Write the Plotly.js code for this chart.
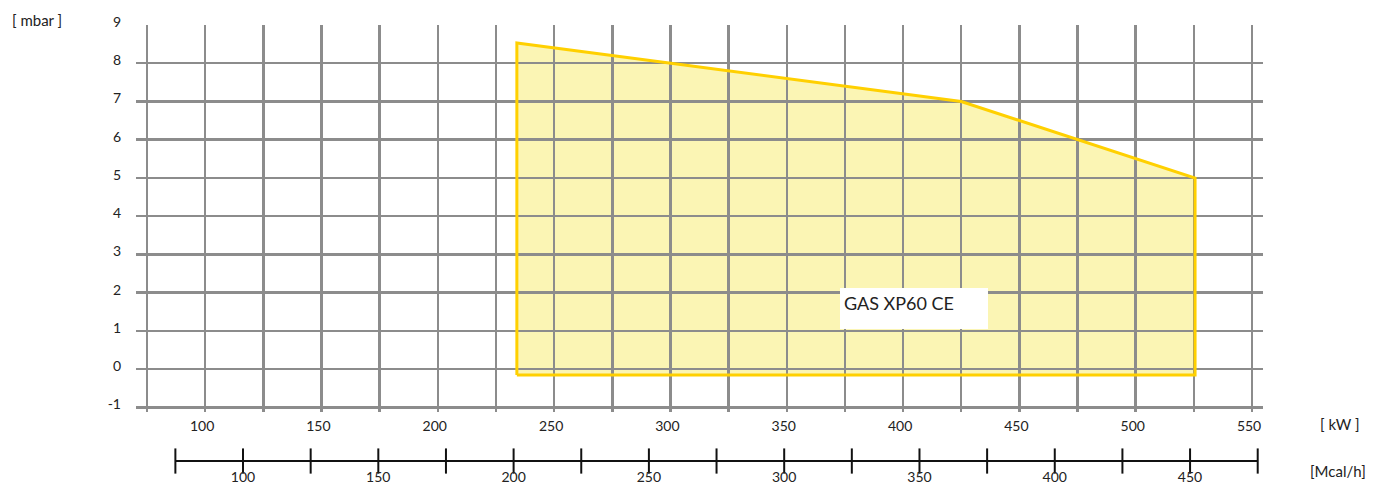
<!DOCTYPE html>
<html>
<head>
<meta charset="utf-8">
<script src="https://cdn.plot.ly/plotly-3.0.1.min.js"></script>
<style>html,body{margin:0;padding:0;background:#fff;}</style>
</head>
<body>
<div id="chart" style="width:1382px;height:486px;"></div>
<script>
// ---- data ----
const powerKW = [234, 234, 425, 525.5, 525.5];
const pressureMbar = [-0.15, 8.53, 7.0, 5.0, -0.15];
const seriesName = 'GAS XP60 CE';
const kwTicks = [100, 150, 200, 250, 300, 350, 400, 450, 500, 550];
const kwMinorGrid = [75, 125, 175, 225, 275, 325, 375, 425, 475, 525];
const mbarTicks = [-1, 0, 1, 2, 3, 4, 5, 6, 7, 8, 9];
const mcalScale = [75, 100, 125, 150, 175, 200, 225, 250, 275, 300, 325, 350, 375, 400, 425, 450, 475];
const mcalTicks = [100, 150, 200, 250, 300, 350, 400, 450];
const KW_PER_MCAL = 1.163;

// ---- layout constants ----
const kwRange = [70.3, 554.7];
const mbarRange = [-1.12, 9];
const gridColor = '#8c8c8c';
const gridWidth = 2.5;
const font = {family: 'Lato, "Open Sans", sans-serif', size: 14, color: '#222'};
const titleFont = {family: font.family, size: 15, color: '#222'};

const closedX = powerKW.concat([powerKW[0]]);
const closedY = pressureMbar.concat([pressureMbar[0]]);

const traces = [
  { // fill (below grid)
    x: powerKW, y: pressureMbar, xaxis: 'x', yaxis: 'y',
    type: 'scatter', mode: 'lines', fill: 'toself',
    fillcolor: '#FBF5B4', line: {width: 0}, hoverinfo: 'skip', showlegend: false
  },
  { // outline (above grid)
    x: closedX, y: closedY, xaxis: 'x2', yaxis: 'y2',
    type: 'scatter', mode: 'lines', name: seriesName,
    line: {color: '#FFD000', width: 3}, showlegend: false
  },
  { // Mcal/h scale
    x: mcalScale, y: mcalScale.map(() => 0), xaxis: 'x3', yaxis: 'y3',
    type: 'scatter', mode: 'lines+markers', cliponaxis: false,
    line: {color: '#111', width: 2},
    marker: {symbol: 'line-ns', size: 18, color: '#111', line: {width: 2, color: '#111'}},
    hoverinfo: 'skip', showlegend: false
  }
];

const mainDomain = [0.1303, 1];

const layout = {
  width: 1382, height: 486,
  margin: {l: 136, r: 119, t: 25, b: 16},
  paper_bgcolor: '#fff',
  plot_bgcolor: 'rgba(0,0,0,0)',
  font: font,
  showlegend: false,
  xaxis: {domain: [0, 1], range: kwRange, anchor: 'y', showgrid: false, zeroline: false,
          showticklabels: false, ticks: '', showline: false, fixedrange: true},
  yaxis: {domain: mainDomain, range: mbarRange, anchor: 'x', showgrid: false, zeroline: false,
          showticklabels: false, ticks: '', showline: false, fixedrange: true},
  xaxis2: {domain: [0, 1], range: kwRange, anchor: 'y2',
           tickmode: 'array', tickvals: kwTicks, ticktext: kwTicks.map(String),
           showgrid: true, gridcolor: gridColor, gridwidth: gridWidth,
           minor: {tickmode: 'array', tickvals: kwMinorGrid, showgrid: true, gridcolor: gridColor, gridwidth: gridWidth, ticks: ''},
           zeroline: false, showline: false, ticks: '', tickfont: font,
           ticklabelstandoff: 4, ticklabelshift: -3},
  yaxis2: {domain: mainDomain, range: mbarRange, anchor: 'x2',
           tickmode: 'array', tickvals: mbarTicks, ticktext: mbarTicks.map(String),
           showgrid: true, gridcolor: gridColor, gridwidth: gridWidth,
           zeroline: false, showline: false, ticks: '', tickfont: font,
           ticklabelstandoff: 14, ticklabelshift: -3},
  xaxis3: {domain: [0, 1], range: kwRange.map(v => v / KW_PER_MCAL), anchor: 'y3',
           tickmode: 'array', tickvals: mcalTicks, ticktext: mcalTicks.map(String),
           showgrid: false, zeroline: false, showline: false, ticks: '', tickfont: font},
  yaxis3: {domain: [0.0067, 0.0404], range: [-0.4, 0.6], anchor: 'x3', visible: false, fixedrange: true},
  annotations: [
    {text: '[ mbar ]', xref: 'paper', yref: 'paper', x: -0.0878, y: 1.011,
     xanchor: 'center', yanchor: 'middle', showarrow: false, font: titleFont},
    {text: '[ kW ]', xref: 'paper', yref: 'paper', x: 1.0683, y: 0.1034,
     xanchor: 'center', yanchor: 'middle', showarrow: false, font: titleFont},
    {text: '[Mcal/h]', xref: 'paper', yref: 'paper', x: 1.0666, y: -0.0022,
     xanchor: 'center', yanchor: 'middle', showarrow: false, font: titleFont},
    {text: seriesName, xref: 'x2', yref: 'y2', x: 372.9, y: 2.115,
     xanchor: 'left', yanchor: 'top', width: 140, height: 33,
     align: 'left', valign: 'top', bgcolor: '#ffffff', borderpad: 4, borderwidth: 0,
     showarrow: false, font: {family: font.family, size: 18, color: '#222'}}
  ]
};

Plotly.newPlot('chart', traces, layout, {displayModeBar: false, staticPlot: true});
</script>
</body>
</html>
